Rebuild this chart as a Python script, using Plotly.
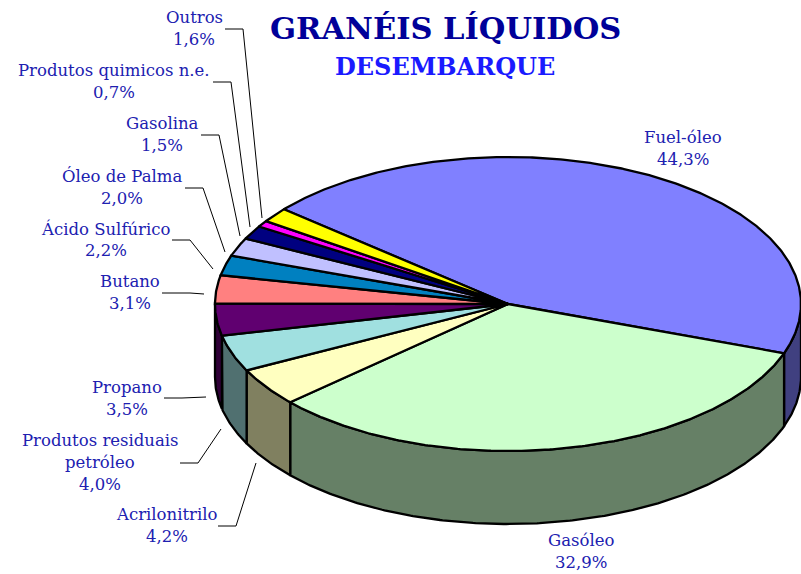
import math
import plotly.graph_objects as go

# ---- data ----
categories = ["Fuel-óleo", "Gasóleo", "Acrilonitrilo", "Produtos residuais petróleo", "Propano",
              "Butano", "Ácido Sulfúrico", "Óleo de Palma", "Gasolina", "Produtos quimicos n.e.", "Outros"]
values = [44.3, 32.9, 4.2, 4.0, 3.5, 3.1, 2.2, 2.0, 1.5, 0.7, 1.6]
label_lines = [["Fuel-óleo"], ["Gasóleo"], ["Acrilonitrilo"], ["Produtos residuais", "petróleo"], ["Propano"],
               ["Butano"], ["Ácido Sulfúrico"], ["Óleo de Palma"], ["Gasolina"], ["Produtos quimicos n.e."], ["Outros"]]
top_colors = ["#8080FF", "#CCFFCC", "#FFFFC0", "#A0E0E0", "#600070",
              "#FF8080", "#0080C0", "#C0C0FF", "#000080", "#FF00FF", "#FFFF00"]
side_colors = ["#404080", "#668066", "#808060", "#507070", "#300038",
               "#804040", "#004060", "#606080", "#000040", "#800080", "#808000"]

# ---- layout of the drawing (pixels) ----
W, H = 801, 574
CX, CY, RX, RY, DEPTH = 508, 304, 293, 147, 73
START = 139.9
LABEL_X = [683, 581, 167, 100, 127, 130, 106, 122, 162, 114, 194]
LABEL_Y = [137.5, 540.5, 514, 440, 387, 281, 228.5, 176, 123, 70, 17]
LINE_GAP = 22
LEADERS = [None, None,
           [(218, 526), (236, 526), (256, 463)],
           [(180, 463), (198, 463), (221, 429)],
           [(164, 398), (182, 398), (206, 397)],
           [(162, 293), (190, 293), (204, 294)],
           [(172, 240), (190, 240), (213, 269)],
           [(185, 188), (203, 188), (225, 252)],
           [(201, 135), (219, 135), (240, 236)],
           [(213, 82), (231, 82), (250, 227)],
           [(225, 29), (243, 29), (262, 218)]]
TEXT = "#2020B0"
FONT = "DejaVu Serif"


def pt(deg, drop=0):
    a = math.radians(deg)
    return CX + RX * math.cos(a), CY - RY * math.sin(a) + drop


def arc(a0, a1, drop=0):
    n = max(2, int(abs(a1 - a0) * 2) + 1)
    return [pt(a0 + (a1 - a0) * i / (n - 1), drop) for i in range(n)]


fig = go.Figure()


def poly(points, fill):
    fig.add_trace(go.Scatter(x=[p[0] for p in points], y=[p[1] for p in points], mode="lines",
                             fill="toself", fillcolor=fill, line=dict(color="black", width=2.3),
                             hoverinfo="skip", showlegend=False))


# slice angles, clockwise from START
total = sum(values)
angles = []
cursor = START
for v in values:
    nxt = cursor - v / total * 360
    angles.append((cursor, nxt))
    cursor = nxt

# walls: only the part of each slice on the lower half of the ellipse (180..360 deg)
for (a0, a1), col in zip(angles, side_colors):
    for k in (0, -360):
        hi, lo = min(a0 + k + 360, 360), max(a1 + k + 360, 180)
        if hi > lo:
            poly(arc(hi, lo) + arc(lo, hi, DEPTH) + [pt(hi)], col)

# top faces
for (a0, a1), col in zip(angles, top_colors):
    poly([(CX, CY)] + arc(a0, a1) + [(CX, CY)], col)

# leader lines
for lead in LEADERS:
    if lead:
        fig.add_trace(go.Scatter(x=[p[0] for p in lead], y=[p[1] for p in lead], mode="lines",
                                 line=dict(color="black", width=1), hoverinfo="skip", showlegend=False))

# labels
ann = []
for lines, v, lx, ly in zip(label_lines, values, LABEL_X, LABEL_Y):
    rows = lines + [f"{v:.1f}".replace(".", ",") + "%"]
    for i, t in enumerate(rows):
        ann.append(dict(x=lx, y=ly + i * LINE_GAP, text=t, showarrow=False, xanchor="center", yanchor="middle",
                        font=dict(family=FONT, size=16.5, color=TEXT)))
ann.append(dict(x=445, y=28, text="<b>GRANÉIS LÍQUIDOS</b>", showarrow=False, xanchor="center", yanchor="middle",
                font=dict(family=FONT, size=30.5, color="#000099")))
ann.append(dict(x=445, y=66, text="<b>DESEMBARQUE</b>", showarrow=False, xanchor="center", yanchor="middle",
                font=dict(family=FONT, size=24, color="#1A1AFF")))

fig.update_layout(width=W, height=H, margin=dict(l=0, r=0, t=0, b=0), paper_bgcolor="white", plot_bgcolor="white",
                  xaxis=dict(range=[0, W], visible=False, fixedrange=True),
                  yaxis=dict(range=[H, 0], visible=False, fixedrange=True),
                  annotations=ann, showlegend=False)
fig.write_html("out.html", config={"displayModeBar": False},
               post_script="document.body.style.margin='0';")
